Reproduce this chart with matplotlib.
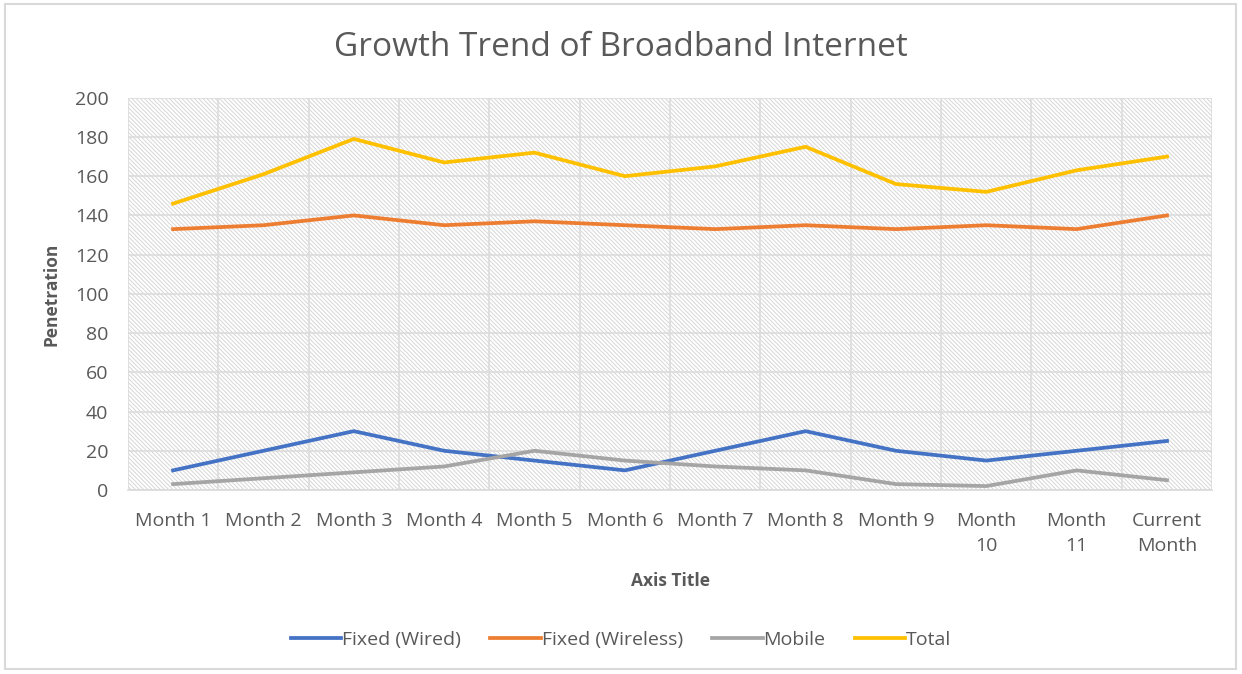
import matplotlib.pyplot as plt
from matplotlib.patches import Rectangle
import numpy as np

plt.rcParams['font.family'] = ['Open Sans', 'DejaVu Sans']
plt.rcParams['hatch.linewidth'] = 0.7

months = ["Month 1", "Month 2", "Month 3", "Month 4", "Month 5", "Month 6",
          "Month 7", "Month 8", "Month 9", "Month\n10", "Month\n11", "Current\nMonth"]
wired = [10, 20, 30, 20, 15, 10, 20, 30, 20, 15, 20, 25]
wireless = [133, 135, 140, 135, 137, 135, 133, 135, 133, 135, 133, 140]
mobile = [3, 6, 9, 12, 20, 15, 12, 10, 3, 2, 10, 5]
total = [146, 161, 179, 167, 172, 160, 165, 175, 156, 152, 163, 170]

fig = plt.figure(figsize=(12.42, 6.74), dpi=100)
fig.patch.set_facecolor('white')
fig.add_artist(Rectangle((0.004, 0.008), 0.991, 0.986, transform=fig.transFigure,
                         fill=False, edgecolor='#d9d9d9', linewidth=1.5))

ax = fig.add_axes([0.103, 0.273, 0.873, 0.582])
x = np.arange(len(months))

# hatched background of plot area
ax.add_patch(Rectangle((0, 0), 1, 1, transform=ax.transAxes, facecolor='white',
                       edgecolor='#d6d6d6', hatch='\\' * 8, linewidth=0, zorder=0))

ax.plot(x, wired, color='#4472c4', lw=2.7, label='Fixed (Wired)', zorder=3)
ax.plot(x, wireless, color='#ed7d31', lw=2.7, label='Fixed (Wireless)', zorder=3)
ax.plot(x, mobile, color='#a5a5a5', lw=2.7, label='Mobile', zorder=3)
ax.plot(x, total, color='#ffc000', lw=2.7, label='Total', zorder=3)

ax.set_xlim(-0.5, len(months) - 0.5)
ax.set_ylim(0, 200)
ax.set_yticks(range(0, 201, 20))
ax.set_xticks(x)
ax.set_xticklabels(months, linespacing=1.5)
ax.set_xticks(np.arange(-0.5, len(months), 1), minor=True)
ax.grid(True, which='minor', axis='x', color='#dcdcdc', lw=1.2, zorder=1)
ax.grid(True, which='major', axis='y', color='#dcdcdc', lw=1.2, zorder=1)
ax.set_axisbelow(True)
ax.tick_params(which='both', length=0, labelsize=14, labelcolor='#595959')
ax.tick_params(axis='x', pad=16)
ax.tick_params(axis='y', pad=14)
for s in ['top', 'right', 'left']:
    ax.spines[s].set_visible(False)
ax.spines['bottom'].set_color('#d9d9d9')
ax.spines['bottom'].set_linewidth(1.2)

fig.text(0.5, 0.93, "Growth Trend of Broadband Internet", fontsize=24, color='#595959',
         ha='center', va='center')
ax.set_xlabel("Axis Title", fontsize=12.5, fontweight='bold', color='#595959', labelpad=12)
ax.set_ylabel("Penetration", fontsize=12.5, fontweight='bold', color='#595959', labelpad=10)

fig.legend(loc='center', bbox_to_anchor=(0.5, 0.05), ncol=4, frameon=False,
           fontsize=14, labelcolor='#595959', handlelength=2.6, handletextpad=0.05,
           columnspacing=1.5)

fig.savefig('out.png', dpi=100)
